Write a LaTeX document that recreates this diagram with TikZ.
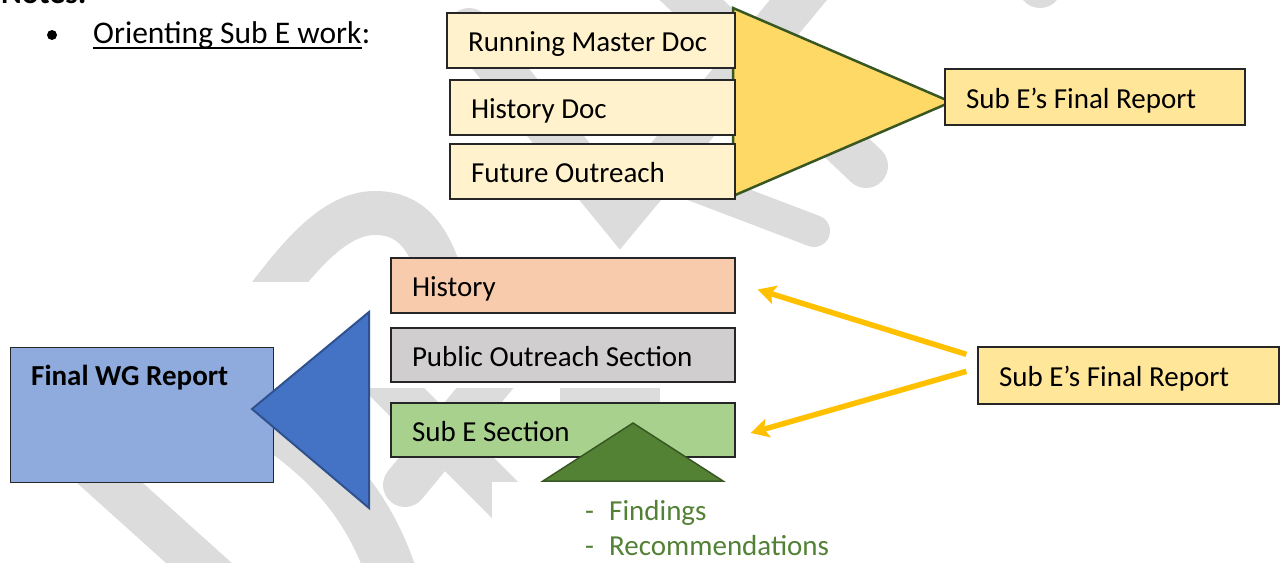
\documentclass[tikz,border=0pt]{standalone}
\usepackage{fontspec}
\setmainfont{Carlito}
\usetikzlibrary{arrows.meta}
\definecolor{wmgray}{HTML}{DCDCDC}
\definecolor{boxlt}{HTML}{FFF2CC}
\definecolor{gold}{HTML}{FFD966}
\definecolor{sefill}{HTML}{FFE699}
\definecolor{histfill}{HTML}{F8CBAD}
\definecolor{pubfill}{HTML}{D0CECE}
\definecolor{subfill}{HTML}{A9D18E}
\definecolor{fwgfill}{HTML}{8FAADC}
\definecolor{blueacc}{HTML}{4472C4}
\definecolor{blueline}{HTML}{2F528F}
\definecolor{greenacc}{HTML}{548235}
\definecolor{greenline}{HTML}{385723}
\definecolor{arrowgold}{HTML}{FFC000}
\definecolor{listgreen}{HTML}{538135}
\newcommand{\boxtxt}[1]{\spaceskip=0pt\relax\xspaceskip=0pt\relax\mbox{#1}}
\tikzset{
  txt/.style={font=\fontsize{29pt}{35pt}\selectfont},
  box/.style={draw=black!85, line width=1.3pt, inner xsep=21pt, inner ysep=0pt, text height=22pt, text depth=0pt, txt},
  wm/.style={draw=wmgray, line width=44pt, line cap=round},
  arr/.style={draw=arrowgold, line width=5.5pt, -{Stealth[length=18pt, width=19pt, inset=4pt]}},
  plain/.style={anchor=base west, inner sep=0pt, txt}
}
\begin{document}
\begin{tikzpicture}[x=1pt,y=-1pt]
\useasboundingbox (0,0) rectangle (1281,562);
\clip (0,0) rectangle (1281,562);

% watermark
\draw[wm] (266,300) .. controls (300,255) and (335,213) .. (375,213) .. controls (410,213) and (430,235) .. (445,290);
\draw[wm, line join=miter, miter limit=4] (469,30) -- (620,215) -- (815,-20);
\draw[wm] (541,320) -- (405,485);
\draw[wm] (660,-30) -- (866,166);
\draw[wm, line width=32pt] (680,180) -- (814,231);
\draw[wm] (1000,-60) -- (1040,-14);
\draw[wm] (40,420) -- (240,600);
\draw[wm, line width=50pt] (230,395) .. controls (300,440) and (360,480) .. (392,575);
\draw[wm] (370,365) -- (530,525);
\draw[wm, line width=30pt, line cap=butt] (560,395) -- (660,395);
\fill[white] (0,282) rectangle (745,388);
\fill[white] (492,482) rectangle (900,562);

% header
\node[plain, font=\fontsize{31.5pt}{38pt}\selectfont\bfseries] (notes) at (1,3) {Notes:};
\node[circle, fill=black, inner sep=0pt, minimum size=10pt] (bul) at (52,35) {};
\node[plain, font=\fontsize{31.5pt}{38pt}\selectfont] (ori) at (93,43) {Orienting Sub E work};
\node[plain, font=\fontsize{31.5pt}{38pt}\selectfont] (colon) at (ori.base east) {:};
\draw[line width=2pt] ([shift={(0,5)}]ori.base west) -- ([shift={(0,5)}]ori.base east);

% top group
\draw[fill=gold, draw=greenline, line width=2.5pt, line join=miter] (733,8) -- (951,102) -- (733,196) -- cycle;
\node[box, fill=boxlt, minimum height=55pt, text width=246pt] (rm) at (591,40.5) {\boxtxt{Running Master Doc}};
\node[box, fill=boxlt, minimum height=55pt, text width=243pt] (hd) at (592.5,107.5) {\boxtxt{History Doc}};
\node[box, fill=boxlt, minimum height=55pt, text width=243pt] (fo) at (592.5,171.5) {\boxtxt{Future Outreach}};
\node[box, fill=sefill, minimum height=56pt, text width=258pt] (se1) at (1095,97) {\boxtxt{Sub E’s Final Report}};

% final WG report
\node[draw=black!85, line width=1.3pt, fill=fwgfill, minimum width=263pt, minimum height=135pt, anchor=north west, inner sep=0pt] (fwg) at (10,347) {};
\draw[fill=blueacc, draw=blueline, line width=2pt, line join=miter] (252,409) -- (369,312) -- (369,508) -- cycle;
\node[plain, font=\fontsize{29pt}{35pt}\selectfont\bfseries] (fwgt) at ([shift={(21,38)}]fwg.north west) {Final WG Report};

% lower sections
\node[box, fill=histfill, minimum height=55pt, text width=302pt] (hist) at (563,285.5) {\boxtxt{History}};
\node[box, fill=pubfill, minimum height=54pt, text width=302pt] (pub) at (563,355) {\boxtxt{Public Outreach Section}};
\node[box, fill=subfill, minimum height=54pt, text width=302pt] (subsec) at (563,430) {\boxtxt{Sub E Section}};
\draw[fill=greenacc, draw=greenline, line width=1.5pt, line join=miter] (633,423) -- (723,481) -- (543,481) -- cycle;

\node[box, fill=sefill, minimum height=57pt, text width=259pt] (se2) at (1128.5,375.5) {\boxtxt{Sub E’s Final Report}};
\coordinate (a1s) at ([shift={(-11,8)}]se2.north west);
\coordinate (a1e) at ([shift={(22,4)}]hist.east);
\coordinate (a2s) at ([shift={(-11,25)}]se2.north west);
\coordinate (a2e) at ([shift={(15,3)}]subsec.east);
\draw[arr] (a1s) -- (a1e);
\draw[arr] (a2s) -- (a2e);

% list
\node[plain, text=listgreen] (d1) at (585,520) {-};
\node[plain, text=listgreen] (f1) at (609,520) {Findings};
\node[plain, text=listgreen] (d2) at (585,555) {-};
\node[plain, text=listgreen] (f2) at (609,555) {Recommendations};
\end{tikzpicture}
\end{document}
